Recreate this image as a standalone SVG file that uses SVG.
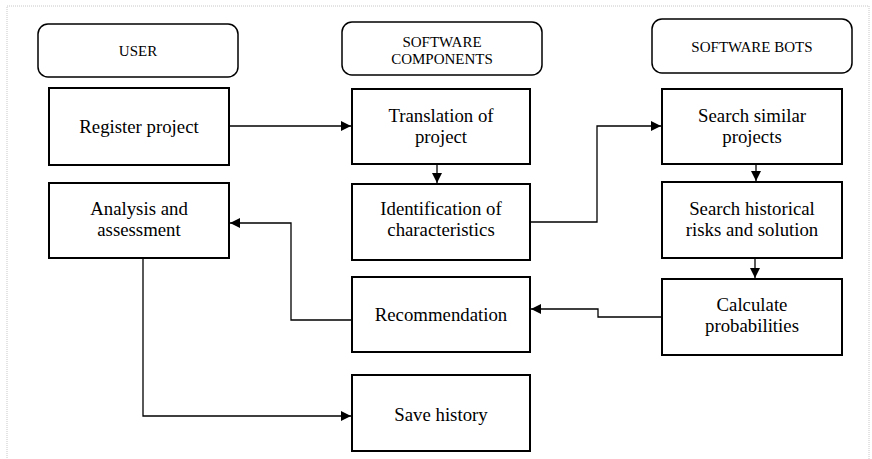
<svg xmlns="http://www.w3.org/2000/svg" width="872" height="459" viewBox="0 0 872 459">
<defs>
<marker id="arr" viewBox="0 0 10 10" refX="10" refY="5" markerWidth="10" markerHeight="10" markerUnits="userSpaceOnUse" orient="auto">
<path d="M0,0 L10,5 L0,10 Z" fill="#000"/>
</marker>
</defs>
<style>
.box{fill:#fff;stroke:#000;stroke-width:2}
.hdr{fill:#fff;stroke:#000;stroke-width:1.5}
.t{font-family:"Liberation Serif","Times New Roman",serif;font-size:18.8px;fill:#000;text-anchor:middle}
.h{font-family:"Liberation Serif","Times New Roman",serif;font-size:15px;fill:#000;text-anchor:middle}
.c{fill:none;stroke:#000;stroke-width:1.3;marker-end:url(#arr)}
</style>
<rect x="0" y="0" width="872" height="459" fill="#fff"/>
<rect x="7" y="6" width="862" height="460" fill="none" stroke="#c8c8c8" stroke-width="1" stroke-dasharray="1,1"/>
<g id="hdr-user"><rect class="hdr" x="38" y="24" width="200" height="53" rx="10"/><text class="h" x="138" y="56">USER</text></g>
<g id="hdr-components"><rect class="hdr" x="342" y="22" width="200" height="53" rx="10"/><text class="h" x="442" y="47">SOFTWARE</text><text class="h" x="442" y="64">COMPONENTS</text></g>
<g id="hdr-bots"><rect class="hdr" x="652" y="19" width="200" height="54" rx="10"/><text class="h" x="752" y="52">SOFTWARE BOTS</text></g>
<g id="register"><rect class="box" x="49" y="88" width="180" height="77"/><text class="t" x="139" y="133">Register project</text></g>
<g id="translation"><rect class="box" x="352" y="89" width="178" height="75"/><text class="t" x="441" y="122">Translation of</text><text class="t" x="441" y="143">project</text></g>
<g id="search-similar"><rect class="box" x="662" y="89" width="180" height="75"/><text class="t" x="752" y="122">Search similar</text><text class="t" x="752" y="143">projects</text></g>
<g id="analysis"><rect class="box" x="49" y="183" width="180" height="75"/><text class="t" x="139" y="215">Analysis and</text><text class="t" x="139" y="236">assessment</text></g>
<g id="identification"><rect class="box" x="352" y="184" width="178" height="76"/><text class="t" x="441" y="215">Identification of</text><text class="t" x="441" y="236">characteristics</text></g>
<g id="search-historical"><rect class="box" x="662" y="182" width="180" height="76"/><text class="t" x="752" y="215">Search historical</text><text class="t" x="752" y="236">risks and solution</text></g>
<g id="recommendation"><rect class="box" x="352" y="277" width="178" height="75"/><text class="t" x="441" y="321">Recommendation</text></g>
<g id="calculate"><rect class="box" x="662" y="279" width="180" height="76"/><text class="t" x="752" y="311">Calculate</text><text class="t" x="752" y="332">probabilities</text></g>
<g id="save"><rect class="box" x="352" y="375" width="178" height="76"/><text class="t" x="441" y="421">Save history</text></g>
<g id="connectors">
<path class="c" d="M229,126 H351"/>
<path class="c" d="M437,164 V183"/>
<path class="c" d="M530,222 H597 V126 H661"/>
<path class="c" d="M756,164 V181"/>
<path class="c" d="M755,258 V278"/>
<path class="c" d="M662,317 H598 V309 H531"/>
<path class="c" d="M352,320 H291 V223 H230"/>
<path class="c" d="M143,258 V416 H351"/>
</g>
</svg>
